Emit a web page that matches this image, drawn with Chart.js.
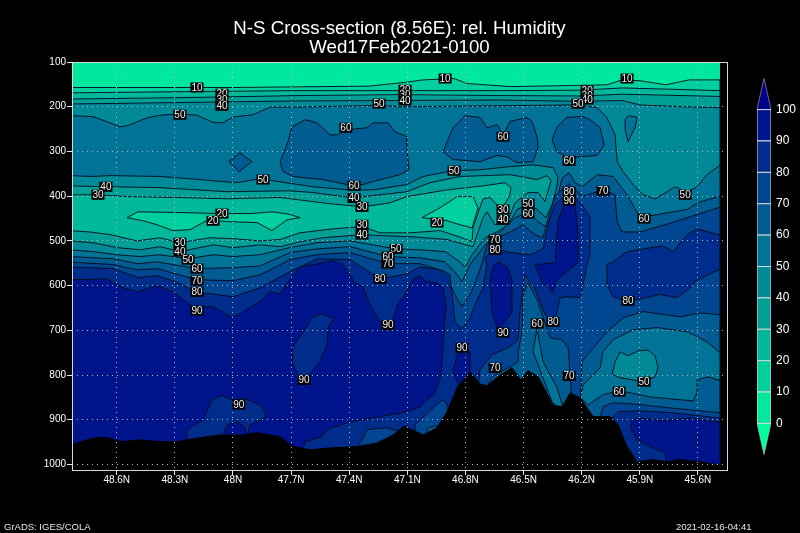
<!DOCTYPE html>
<html><head><meta charset="utf-8">
<style>
html,body{margin:0;padding:0;background:#000;width:800px;height:533px;overflow:hidden}
canvas{position:absolute;display:block}
.foot{position:absolute;color:#e8e8e8;font:9.5px "Liberation Sans",sans-serif;white-space:nowrap}
</style>
<script src="https://cdn.jsdelivr.net/npm/chart.js@4/dist/chart.umd.min.js"></script>
</head><body>
<canvas id="main" width="800" height="533" style="left:0;top:0;width:800px;height:533px"></canvas>
<canvas id="bar" width="50" height="401" style="left:750px;top:66px;width:50px;height:401px"></canvas>
<div class="foot" style="left:4px;top:521px">GrADS: IGES/COLA</div>
<div class="foot" style="left:676px;top:521px">2021-02-16-04:41</div>
<script>
const titleLines = ['N-S Cross-section (8.56E): rel. Humidity','Wed17Feb2021-0100'];
const latTicks = [48.6,48.3,48,47.7,47.4,47.1,46.8,46.5,46.2,45.9,45.6];
const pressureTicks = [100,200,300,400,500,600,700,800,900,1000];
const barLevels = [0,10,20,30,40,50,60,70,80,90];
const W = 48.85, E = 45.486, B = 1012.4;

// band colours from driest to wettest
const bandColors = ['#00e89f','#00d09d','#00b99b','#00a096','#008996','#007396','#005c91','#004691','#002d8c','#00148c'];
const belowColor = '#00ff9f', aboveColor = '#00008b';

// contour lines of relative humidity, [latitude, pressure]
const top10 = [[W,157],[48,157],[47.3,154],[47.122,146],[47.019,140],[46.859,137],[46.792,148],[46.57,155],[46.069,151],[45.992,140],[45.899,142],[45.765,151],[45.646,140],[E,140]];
const top20 = [[W,169],[48.17,166],[47.654,164],[46.622,164],[46.2,163],[45.99,158],[E,164]];
const top30 = [[W,183],[48.17,179],[47.654,175],[47.138,173],[46.622,175],[46.2,176],[45.99,172],[E,177]];
const top40 = [[W,194],[48.17,190],[47.654,187],[46.622,185],[46.2,188],[45.99,186],[45.9,196],[45.68,200],[E,202]];
const top50 = [[W,220],[48.723,222],[48.635,236],[48.583,245],[48.542,242],[48.444,225],[48.377,219],[48.274,216],[48.186,219],[48.103,235],[48.052,236],[48,223],[47.897,218],[47.809,201],[47.706,201],[47.246,197],[47.138,200],[46.218,196],[46.12,202],[46.069,225],[46.028,263],[46.017,323],[45.986,345],[45.935,374],[45.883,397],[45.821,406],[45.759,390],[45.718,379],[45.656,392],[45.604,379],[45.553,352],[45.496,334],[E,330]];

const rim30 = [[W,477],[48.739,480],[48.635,486],[48.495,500],[48.377,493],[48.274,504],[48.119,493],[48,495],[47.861,500],[47.757,497],[47.654,482],[47.483,473],[47.334,468],[47.241,482],[47.086,482],[46.931,477],[46.818,493],[46.766,502],[46.761,471],[46.735,437],[46.709,406],[46.673,403],[46.637,419],[46.606,424],[46.57,397],[46.565,381],[46.596,370],[46.709,377],[46.895,386],[47.102,401],[47.19,415],[47.329,424],[47.499,417],[47.757,403],[48.031,406],[48.289,403],[48.547,401],[48.697,397],[W,397]];
const rim40 = [[W,500],[48.723,504],[48.599,515],[48.48,520],[48.377,513],[48.274,524],[48.103,509],[48,515],[47.861,509],[47.757,513],[47.654,502],[47.535,493],[47.329,486],[47.241,488],[47.071,491],[46.895,497],[46.761,513],[46.74,486],[46.709,448],[46.689,435],[46.648,464],[46.58,453],[46.544,415],[46.477,392],[46.425,392],[46.389,412],[46.358,365],[46.379,354],[46.43,363],[46.57,352],[46.828,356],[46.983,370],[47.102,390],[47.241,397],[47.38,404],[47.587,392],[47.706,388],[48.031,390],[48.377,381],[48.651,379],[W,377]];
const rim50 = [[W,520],[48.723,524],[48.599,531],[48.48,535],[48.377,531],[48.232,540],[48.103,531],[48,535],[47.861,531],[47.706,515],[47.566,504],[47.396,500],[47.158,518],[47.034,520],[46.905,524],[46.828,547],[46.802,560],[46.766,531],[46.699,493],[46.637,480],[46.58,464],[46.534,430],[46.477,417],[46.43,430],[46.384,448],[46.353,419],[46.332,386],[46.322,359],[46.348,336],[46.451,330],[46.57,334],[46.725,341],[46.864,343],[47.019,356],[47.102,374],[47.277,386],[47.401,386],[47.587,379],[47.757,368],[47.861,361],[47.98,370],[48.17,363],[48.377,356],[48.635,354],[48.723,356],[W,354]];
const rim60 = [[W,535],[48.62,540],[48.491,551],[48.392,547],[48.186,562],[48,560],[47.861,556],[47.706,526],[47.566,518],[47.396,513],[47.2,535],[47.034,538],[46.905,547],[46.854,569],[46.818,591],[46.776,553],[46.699,509],[46.622,480],[46.544,448],[46.477,437],[46.425,457],[46.389,468],[46.353,441],[46.322,397],[46.301,359],[46.265,348],[46.234,370],[46.198,379],[46.12,352],[46.038,356],[45.966,397],[45.899,448],[45.728,435],[45.656,430],[45.604,415],[45.496,401],[E,401],[E,750],[45.553,726],[45.656,703],[45.811,694],[45.935,699],[46.038,721],[46.09,748],[46.105,784],[46.193,822],[46.208,849],[46.167,867],[46.09,844],[46.007,835],[45.847,849],[45.625,858],[45.604,838],[45.604,811],[45.548,804],[45.496,811],[E,811],[E,B],[W,B]];
const rim70 = [[W,547],[48.62,553],[48.491,565],[48.392,562],[48.186,587],[48,589],[47.861,576],[47.706,542],[47.566,531],[47.396,526],[47.2,551],[47.034,551],[46.905,569],[46.854,621],[46.818,647],[46.776,621],[46.725,565],[46.689,509],[46.642,495],[46.57,480],[46.503,464],[46.441,486],[46.4,493],[46.363,435],[46.332,397],[46.265,372],[46.198,401],[46.09,386],[46.028,397],[46.017,457],[45.992,480],[45.899,480],[45.77,464],[45.64,446],[45.496,426],[E,426],[E,665],[45.589,661],[45.692,670],[45.883,658],[45.986,672],[46.069,703],[46.157,748],[46.198,770],[46.208,867],[46.249,867],[46.26,802],[46.27,739],[46.301,721],[46.363,717],[46.43,632],[46.477,594],[46.503,621],[46.508,703],[46.528,748],[46.528,770],[46.57,782],[46.622,793],[46.663,806],[46.689,826],[46.689,B],[W,B]];
const low70 = [[46.105,896],[46.09,871],[46.038,862],[45.899,866],[45.759,873],[45.589,880],[45.496,884],[E,884],[E,B],[46.105,B]];
const rim80 = [[W,558],[48.62,562],[48.491,582],[48.392,578],[48.3,591],[48.186,614],[48,625],[47.861,605],[47.706,569],[47.566,540],[47.396,542],[47.241,585],[47.102,574],[47.034,558],[46.931,565],[46.88,576],[46.854,681],[46.818,697],[46.776,672],[46.751,643],[46.709,605],[46.689,553],[46.699,538],[46.642,518],[46.57,526],[46.467,531],[46.4,518],[46.363,446],[46.337,419],[46.265,390],[46.198,419],[46.157,448],[46.157,531],[46.172,553],[46.193,598],[46.208,627],[46.27,625],[46.312,627],[46.327,659],[46.348,681],[46.389,665],[46.441,609],[46.492,576],[46.518,654],[46.528,721],[46.57,737],[46.663,755],[46.725,788],[46.735,828],[46.735,B],[W,B]];
const east80 = [[46.038,547],[45.966,524],[45.78,511],[45.728,524],[45.656,486],[45.604,473],[45.496,486],[E,486],[E,565],[45.496,565],[45.615,591],[45.64,605],[45.707,627],[45.795,620],[45.961,636],[46.038,625],[46.069,598],[46.069,553]];
const low80 = [[46.043,896],[46.012,882],[45.899,880],[45.744,884],[45.589,891],[45.496,896],[E,896],[E,B],[46.043,B]];
const rim90 = [[W,587],[48.651,585],[48.568,605],[48.491,614],[48.392,600],[48.3,616],[48.212,647],[48.103,647],[48,672],[47.861,636],[47.809,614],[47.757,618],[47.695,580],[47.654,558],[47.535,549],[47.483,544],[47.432,553],[47.37,594],[47.329,603],[47.293,643],[47.231,688],[47.179,683],[47.153,643],[47.102,614],[47.071,585],[47.034,578],[46.998,591],[46.947,594],[46.916,605],[46.9,643],[46.916,739],[46.926,799],[46.957,840],[47.034,871],[47.096,882],[47.396,905],[47.515,922],[47.541,938],[47.628,949],[47.639,967],[47.639,B],[W,B]];
const core90 = [[46.26,408],[46.234,415],[46.219,491],[46.219,547],[46.245,558],[46.296,576],[46.337,594],[46.348,616],[46.405,591],[46.441,553],[46.389,551],[46.337,549],[46.322,453],[46.286,415]];
const lobeA90 = [[46.632,547],[46.585,558],[46.56,587],[46.56,661],[46.632,699],[46.663,661],[46.673,587],[46.658,558]];
const lobeB90 = [[46.823,735],[46.776,750],[46.776,795],[46.812,822],[46.838,822],[46.864,788],[46.838,750]];
const low90 = [[45.95,918],[45.94,902],[45.899,896],[45.77,902],[45.64,896],[45.496,905],[E,905],[E,B],[45.759,B],[45.77,974],[45.847,960],[45.914,945]];

// closed patches
const dryLeft20 = [[48.547,448],[48.491,435],[48.238,437],[48.083,439],[47.912,439],[47.794,435],[47.706,441],[47.654,448],[47.721,453],[47.799,477],[47.876,459],[48.031,457],[48.129,453],[48.222,475],[48.31,477],[48.392,464],[48.465,455]];
const dryRight20 = [[47.024,448],[46.931,426],[46.843,401],[46.761,401],[46.735,426],[46.766,471],[46.828,464],[46.895,455]];
const moist50 = [[45.976,229],[45.961,220],[45.914,224],[45.925,247],[45.961,278],[45.976,251]];
const moistA60 = [[47.757,323],[47.742,307],[47.716,278],[47.695,245],[47.628,229],[47.566,236],[47.499,263],[47.463,263],[47.396,251],[47.308,247],[47.277,236],[47.2,236],[47.164,256],[47.102,267],[47.102,296],[47.091,341],[47.138,352],[47.241,363],[47.329,374],[47.411,374],[47.535,363],[47.69,356],[47.742,345]];
const moistB60 = [[46.916,301],[46.864,247],[46.802,220],[46.725,224],[46.689,247],[46.637,240],[46.606,263],[46.57,233],[46.482,224],[46.456,233],[46.43,269],[46.425,292],[46.451,323],[46.534,325],[46.585,312],[46.637,309],[46.725,323],[46.864,318]];
const moistC60 = [[48.021,323],[47.964,303],[47.902,323],[47.969,345]];
const moistD60 = [[46.198,222],[46.276,224],[46.327,245],[46.353,274],[46.327,301],[46.265,314],[46.12,309],[46.084,285],[46.105,247],[46.157,229]];
const patchA80 = [[47.587,670],[47.541,663],[47.478,674],[47.509,692],[47.515,732],[47.551,770],[47.618,806],[47.654,806],[47.69,777],[47.695,739],[47.654,714],[47.613,688]];
const patchB80 = [[48.238,956],[48.238,922],[48.155,900],[48.103,853],[48.057,846],[48.005,855],[47.938,853],[47.861,866],[47.83,889],[47.85,900],[47.912,911],[47.928,940],[47.938,916],[47.979,905],[48.031,911],[48.057,940],[48.057,956]];
const patchA70 = [[47.354,961],[47.308,922],[47.205,918],[47.153,925],[47.112,945],[47.112,978],[47.354,978]];
const patchB70 = [[47.06,911],[46.947,866],[46.916,855],[46.89,871],[46.895,889],[46.947,934],[47.06,945]];
const patch60 = [[47,929],[46.993,918],[46.947,913],[46.931,927],[46.982,945]];
const finger60 = [[46.43,694],[46.451,748],[46.425,777],[46.353,860],[46.301,882],[46.301,867],[46.327,828],[46.4,770],[46.425,710]];
const dry50 = [[46.043,799],[46.028,772],[46.002,748],[45.961,757],[45.909,746],[45.857,744],[45.821,757],[45.806,784],[45.821,804],[45.878,815],[45.935,811],[46.002,806]];
const terrain = [[W,958],[48.754,945],[48.702,940],[48.651,940],[48.568,949],[48.48,945],[48.377,949],[48.289,949],[48.17,940],[48.067,934],[47.948,934],[47.876,929],[47.757,938],[47.69,960],[47.602,967],[47.499,963],[47.36,960],[47.257,952],[47.174,934],[47.117,914],[47.019,934],[46.947,918],[46.895,882],[46.843,828],[46.776,793],[46.725,820],[46.689,824],[46.622,800],[46.56,784],[46.513,811],[46.477,790],[46.425,804],[46.348,867],[46.301,871],[46.26,840],[46.208,851],[46.141,893],[46.053,893],[46.012,911],[45.966,960],[45.914,994],[45.837,989],[45.759,994],[45.692,989],[45.589,994],[45.496,1001],[E,1002],[E,B],[W,B]];

// contour labels: latitude, pressure, text
const contourLabels = [[48.186,157,'10'],[48.057,171,'20'],[48.057,184,'30'],[48.057,198,'40'],[48.274,218,'50'],[47.417,247,'60'],[47.112,162,'20'],[47.112,173,'30'],[47.112,186,'40'],[47.246,193,'50'],[46.905,137,'10'],[46.172,164,'20'],[46.172,175,'30'],[46.172,184,'40'],[46.219,193,'50'],[45.966,137,'10'],[48.656,379,'40'],[48.697,397,'30'],[47.845,363,'50'],[47.375,377,'60'],[47.375,404,'40'],[47.334,424,'30'],[46.859,343,'50'],[46.606,267,'60'],[46.265,321,'60'],[46.265,390,'80'],[46.265,410,'90'],[46.09,388,'70'],[45.666,397,'50'],[45.878,450,'60'],[46.477,417,'50'],[46.477,439,'60'],[46.606,430,'30'],[46.606,453,'40'],[48.057,439,'20'],[48.103,455,'20'],[46.947,459,'20'],[48.274,504,'30'],[48.274,524,'40'],[48.232,542,'50'],[48.186,562,'60'],[48.186,589,'70'],[48.186,614,'80'],[48.186,656,'90'],[47.334,464,'30'],[47.334,486,'40'],[47.158,518,'50'],[47.2,535,'60'],[47.2,551,'70'],[47.241,585,'80'],[47.2,688,'90'],[46.647,497,'70'],[46.647,520,'80'],[46.606,705,'90'],[46.818,739,'90'],[46.43,685,'60'],[46.348,681,'80'],[46.265,802,'70'],[46.647,784,'70'],[45.961,634,'80'],[45.878,815,'50'],[46.007,837,'60'],[47.633,811,'90'],[47.97,866,'90']];

const LINE = 'rgba(0,10,25,0.9)';
const toXY = pts => pts.map(([x,y]) => ({x,y}));
const area = (pts,color,stroke=true) => ({data:toXY(pts),backgroundColor:color,borderColor:stroke?LINE:color,borderWidth:stroke?1:0,fill:'shape',showLine:true,pointRadius:0,spanGaps:true,tension:0});
const below = (line,rim=[]) => line.concat([[E,B],[W,B]],rim);
const C = bandColors;

const layers = [
  area([[W,100],[E,100],[E,B],[W,B]],C[0],false),
  area(below(top10),C[1]),
  area(below(top20),C[2]),
  area(dryLeft20,C[1]), area(dryRight20,C[1]),
  area(below(top30,rim30),C[3]),
  area(below(top40,rim40),C[4]),
  area(below(top50,rim50),C[5]),
  area(moist50,C[5]),
  area(rim60,C[6]),
  area(moistA60,C[6]), area(moistB60,C[6]), area(moistC60,C[6]), area(moistD60,C[6]),
  area(rim70,C[7]), area(low70,C[7]),
  area(rim80,C[8]), area(east80,C[8]), area(low80,C[8]),
  area(rim90,C[9]), area(core90,C[9]), area(lobeA90,C[9]), area(lobeB90,C[9]), area(low90,C[9]),
  area(patchA80,C[8]), area(patchB80,C[8]),
  area(patchA70,C[7]), area(patchB70,C[7]),
  area(patch60,C[6]),
  area(finger60,C[5]),
  area(dry50,C[4]),
  Object.assign(area(terrain,'#000'),{borderColor:'#000'})
];
layers.forEach((d,i)=>{d.order = layers.length - i;});

// Close every dataset's line into a polygon so fill:'shape' keeps its whole outline
const closeShapes = {id:'closeShapes',beforeDatasetsDraw(chart){
  chart.getSortedVisibleDatasetMetas().forEach(m=>{ if(m.dataset){ m.dataset._loop=true; m.dataset._segments=undefined; m.dataset._path=undefined; } });
}};
const frame = {id:'frame',afterDraw(chart){
  const {ctx,chartArea:a,scales:{x,y}} = chart;
  ctx.save();
  ctx.strokeStyle='#d8d8d8'; ctx.lineWidth=1;
  ctx.strokeRect(Math.round(a.left)+.5,Math.round(a.top)+.5,Math.round(a.right-a.left),Math.round(a.bottom-a.top));
  ctx.font='10px "Liberation Sans",sans-serif';
  ctx.textAlign='center'; ctx.textBaseline='middle';
  contourLabels.forEach(([lat,p,t])=>{
    const px=x.getPixelForValue(lat), py=y.getPixelForValue(p);
    ctx.fillStyle='#000'; ctx.fillRect(px-6.5,py-5,13,10);
    ctx.fillStyle='#f0f0f0'; ctx.fillText(t,px,py+.5);
  });
  ctx.restore();
}};

const tickFont = '"Liberation Sans",sans-serif';
new Chart(document.getElementById('main'),{
  type:'scatter',
  data:{datasets:layers},
  plugins:[closeShapes,frame],
  options:{
    responsive:false,animation:false,events:[],
    layout:{padding:{left:0,right:73,top:0,bottom:0}},
    plugins:{legend:{display:false},tooltip:{enabled:false},
      title:{display:true,fullSize:false,text:titleLines,color:'#fff',
        font:{family:'"Liberation Sans",sans-serif',size:18.7,weight:'normal',lineHeight:1},
        padding:{top:19.6,bottom:5}}},
    scales:{
      x:{type:'linear',reverse:true,min:45.45,max:48.831,
        afterBuildTicks:s=>{s.ticks=latTicks.map(v=>({value:v}));},
        afterFit:s=>{s.height=63;},
        ticks:{color:'#fff',font:{family:tickFont,size:10},maxRotation:0,autoSkip:false,padding:-1,callback:v=>v+'N'},
        grid:{z:1,color:'#b8b8b8',tickColor:'#e8e8e8',tickLength:5,tickBorderDash:[],lineWidth:1},
        border:{display:false,dash:[1,4]}},
      y:{type:'linear',reverse:true,min:100,max:B,
        afterBuildTicks:s=>{s.ticks=pressureTicks.map(v=>({value:v}));},
        afterFit:s=>{s.width=72;},
        ticks:{color:'#fff',font:{family:tickFont,size:10},padding:1,callback:v=>String(v)},
        grid:{z:1,color:'#b8b8b8',tickColor:'#e8e8e8',tickLength:5,tickBorderDash:[],lineWidth:1},
        border:{display:false,dash:[1,4]}}
    }
  }
});

// Colour bar
const barData = barLevels.map((l,i)=>({data:toXY([[0,l],[1,l],[1,l+10],[0,l+10]]),backgroundColor:C[i],borderColor:'#d8d8d8',borderWidth:1,fill:'shape',showLine:true,pointRadius:0,spanGaps:true,tension:0}));
barData.push({data:toXY([[0,100],[1,100],[.5,110]]),backgroundColor:aboveColor,borderColor:'#cfcfcf',borderWidth:.5,fill:'shape',showLine:true,pointRadius:0,spanGaps:true,tension:0});
barData.push({data:toXY([[0,0],[1,0],[.5,-10]]),backgroundColor:belowColor,borderColor:'#cfcfcf',borderWidth:.5,fill:'shape',showLine:true,pointRadius:0,spanGaps:true,tension:0});
new Chart(document.getElementById('bar'),{
  type:'scatter',
  data:{datasets:barData},
  plugins:[closeShapes],
  options:{
    responsive:false,animation:false,events:[],
    layout:{autoPadding:false,padding:{left:7,right:0,top:8,bottom:10}},
    plugins:{legend:{display:false},tooltip:{enabled:false},title:{display:false}},
    scales:{
      x:{type:'linear',min:0,max:1,display:false},
      y:{type:'linear',position:'right',min:-10,max:110,
        afterBuildTicks:s=>{s.ticks=barLevels.concat([100]).map(v=>({value:v}));},
        afterFit:s=>{s.width=29;},
        ticks:{color:'#fff',font:{family:'"Liberation Sans",sans-serif',size:12},padding:5},
        grid:{display:false,drawTicks:false,tickLength:0},border:{display:false}}
    }
  }
});
</script>
</body></html>
